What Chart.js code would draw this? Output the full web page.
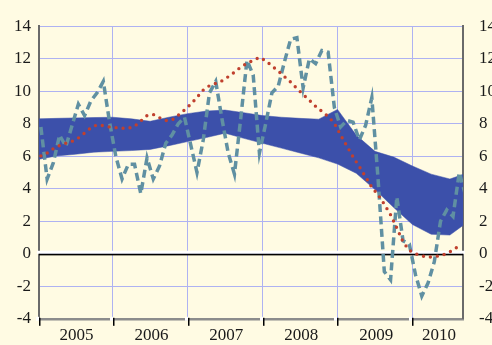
<!DOCTYPE html>
<html><head><meta charset="utf-8">
<script src="https://cdn.jsdelivr.net/npm/chart.js@4.4.1/dist/chart.umd.min.js"></script>
<style>html,body{margin:0;padding:0;background:#fffbe3;overflow:hidden}canvas{display:block}</style>
</head><body><canvas id="c" width="492" height="345"></canvas>
<script>
// Year categories (start of each year = month 0, 12, 24, ...)
const years = ['2005','2006','2007','2008','2009','2010'];
// Monthly series (dashed teal), Jan 2005 .. Sep 2010
const monthlySeries = [7.8,4.6,5.6,7.3,6.6,7.9,9.2,8.5,9.4,9.9,
  10.6,8.1,6.0,4.6,5.5,5.5,3.7,5.9,4.6,5.4,
  6.8,7.3,8.0,8.4,6.7,5.0,7.0,9.9,10.6,8.3,
  6.2,4.9,8.3,11.9,11.0,6.2,8.0,9.9,10.3,11.8,
  13.2,13.3,10.2,12.0,11.7,12.5,12.4,9.0,7.8,8.2,
  8.1,7.0,7.9,9.6,4.6,-1.1,-1.6,3.5,0.8,0.6,
  -1.3,-2.6,-1.8,-0.5,2.0,2.7,2.3,5.0,3.6];
// Smooth monthly series (red dotted)
const trendSeries = [6.02,6.2,6.47,6.66,6.8,6.92,7.12,7.43,7.75,7.93,
  7.88,7.8,7.76,7.72,7.72,7.84,8.17,8.5,8.57,8.37,
  8.2,8.23,8.52,8.85,9.2,9.62,10.07,10.34,10.48,10.64,
  10.89,11.17,11.48,11.72,11.9,12.08,11.88,11.55,11.25,10.9,
  10.56,10.17,9.8,9.44,9.07,8.76,8.45,8.03,7.3,6.63,
  5.96,5.36,4.73,4.09,3.62,3.05,2.4,1.59,0.73,0.21,
  0.0,-0.13,-0.22,-0.17,-0.12,0.02,0.22,0.5];
// Quarterly band (upper / lower), Q1 2005 .. Q4 2010
const bandHigh = [8.3,8.33,8.36,8.38,8.4,8.3,8.15,8.4,8.62,8.78,8.84,8.68,
  8.5,8.4,8.33,8.28,8.88,7.3,6.3,5.95,5.4,4.9,4.6,5.0];
const bandLow = [5.8,6.02,6.12,6.25,6.3,6.35,6.42,6.65,6.9,7.15,7.42,7.1,
  6.8,6.5,6.2,5.9,5.52,4.95,3.95,2.85,1.8,1.2,1.15,2.0];
const yMin = -4, yMax = 14, yStep = 2;

const monthPts = arr => arr.map((v,i)=>({x:i+0.5,y:v}));
const quarterPts = arr => arr.map((v,i)=>({x:i*3,y:v}));

const X_MIN = 0.2, X_MAX = 68.1;
const bounds = years.slice(1).map((_,i)=>(i+1)*12);
const labelPos = years.map((_,i)=> i<years.length-1 ? i*12+6.2 : (i*12+X_MAX)/2+0.2);
const tickVals = [...bounds, ...labelPos].sort((a,b)=>a-b);
const GRID = '#aeb2f2';
const FONT = {family:"'Liberation Serif','Times New Roman',serif", size:17};

const decor = {
  id:'decor',
  beforeDatasetsDraw(chart){
    const {ctx, chartArea:a, scales:{y}} = chart;
    const y0 = y.getPixelForValue(0);
    ctx.save();
    ctx.fillStyle = '#ffffff';
    ctx.fillRect(a.left-2, y0-3, a.right-a.left+4, 3);
    ctx.fillStyle = '#000000';
    ctx.fillRect(a.left, y0, a.right-a.left, 1.6);
    ctx.restore();
  },
  afterDraw(chart){
    const {ctx, chartArea:a, scales:{x}} = chart;
    ctx.save();
    [X_MIN, ...bounds].forEach(v=>{
      const px = Math.round(x.getPixelForValue(v));
      ctx.fillStyle = '#ffffff';
      ctx.fillRect(px-3, a.bottom-2, 3, 4);
      ctx.fillStyle = '#000000';
      ctx.fillRect(px, a.bottom-1, 1.5, 8);
    });
    ctx.restore();
  }
};

new Chart(document.getElementById('c'), {
  type:'line',
  data:{datasets:[
    {label:'trend', data:monthPts(trendSeries), borderColor:'#c0402e', borderWidth:3.4,
     borderDash:[0,7], borderCapStyle:'round', pointRadius:0, tension:0, fill:false, clip:0},
    {label:'monthly', data:monthPts(monthlySeries), borderColor:'#6090a2', borderWidth:3.5,
     borderDash:[8,4.5], borderCapStyle:'butt', pointRadius:0, tension:0, fill:false, clip:0},
    {label:'high', data:quarterPts(bandHigh), borderColor:'#3c50aa', borderWidth:0.5,
     backgroundColor:'#3c50aa', pointRadius:0, tension:0, fill:3, clip:0},
    {label:'low', data:quarterPts(bandLow), borderColor:'#3c50aa', borderWidth:0.5,
     pointRadius:0, tension:0, fill:false, clip:0}
  ]},
  options:{
    responsive:false, animation:false, devicePixelRatio:1,
    layout:{padding:{top:21,left:0,right:0,bottom:0}},
    plugins:{legend:{display:false}, tooltip:{enabled:false}},
    scales:{
      x:{type:'linear', min:X_MIN, max:X_MAX, position:'bottom',
        afterBuildTicks(s){ s.ticks = tickVals.map(v=>({value:v})); },
        afterFit(s){ s.height = 24; },
        grid:{color:c=> bounds.includes(c.tick && c.tick.value) ? GRID : 'rgba(0,0,0,0)', drawTicks:false, lineWidth:1},
        border:{color:'#8c8c8c', width:2.5},
        ticks:{autoSkip:false, maxRotation:0, padding:7, color:'#1a1a1a', font:FONT,
          callback(v){ const k = labelPos.indexOf(v); return k>=0 ? years[k] : ''; }}
      },
      y:{position:'left', min:yMin, max:yMax,
        afterFit(s){ s.width = 39; },
        grid:{color:GRID, drawTicks:false, lineWidth:1},
        border:{color:'#6a6a6a', width:2},
        ticks:{stepSize:yStep, padding:8, color:'#1a1a1a', font:FONT}
      },
      y2:{position:'right', min:yMin, max:yMax,
        afterFit(s){ s.width = 29; },
        grid:{drawOnChartArea:false, drawTicks:false},
        border:{color:'#6a6a6a', width:2},
        ticks:{stepSize:yStep, padding:16, color:'#1a1a1a', font:FONT}
      }
    }
  },
  plugins:[decor]
});
</script>
</body></html>
